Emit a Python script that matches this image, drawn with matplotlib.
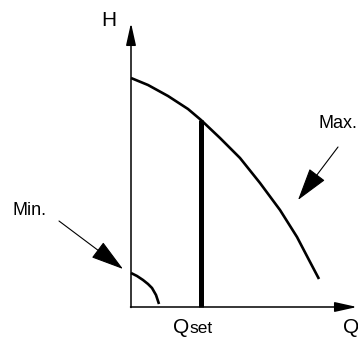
import matplotlib.pyplot as plt

plt.rcParams['font.family'] = ['Liberation Sans', 'DejaVu Sans']

# Pump curves (units: px from the axes origin)
max_q = [0, 17, 37, 57, 70, 89, 109, 129, 149, 166, 178, 188]
max_h = [229, 222, 211, 198, 187, 169, 149, 124, 97, 70, 47, 28]

min_q = [0, 6, 12, 17, 21, 25, 28]
min_h = [34, 31, 27, 23, 19, 12, 3]

q_set = 70
h_set = 187

ink = '#000000'

fig = plt.figure(figsize=(3.58, 3.37), dpi=100)
ax = fig.add_axes([0, 0, 1, 1])
ax.set_xlim(-131, 227)
ax.set_ylim(-30, 307)
ax.axis('off')

# axes with arrow heads
axis_arrow = dict(arrowstyle='-|>,head_length=1.35,head_width=0.3',
                  mutation_scale=10, color=ink, lw=1.1,
                  shrinkA=0, shrinkB=0)
ax.annotate('', xy=(0, 284), xytext=(0, -0.5), arrowprops=axis_arrow)
ax.annotate('', xy=(226, 0), xytext=(-0.5, 0), arrowprops=axis_arrow)

# curves
ax.plot(max_q, max_h, color=ink, lw=1.9, solid_capstyle='butt')
ax.plot(min_q, min_h, color=ink, lw=1.9, solid_capstyle='butt')
ax.plot([q_set, q_set], [0, h_set], color=ink, lw=3.6, solid_capstyle='butt')

# labels
ax.text(-22, 286, 'H', fontsize=15, ha='center', va='center', color=ink)
ax.text(42, -26, 'Q', fontsize=15, ha='left', va='baseline', color=ink)
ax.text(58, -26, 'set', fontsize=12.5, ha='left', va='baseline', color=ink)
ax.text(212, -26, 'Q', fontsize=15, ha='left', va='baseline', color=ink)
ax.text(-118, 92, 'Min.', fontsize=13, ha='left', va='baseline', color=ink)
ax.text(187, 179, 'Max.', fontsize=13, ha='left', va='baseline', color=ink)

# pointer arrows
pointer = dict(arrowstyle='-|>,head_length=2.1,head_width=0.62',
               mutation_scale=10, color=ink, lw=0.8,
               shrinkA=0, shrinkB=0)
ax.annotate('', xy=(-8, 38), xytext=(-72, 86), arrowprops=pointer)
ax.annotate('', xy=(167, 107), xytext=(207, 160), arrowprops=pointer)

fig.savefig('out.png', dpi=100, facecolor='white')
